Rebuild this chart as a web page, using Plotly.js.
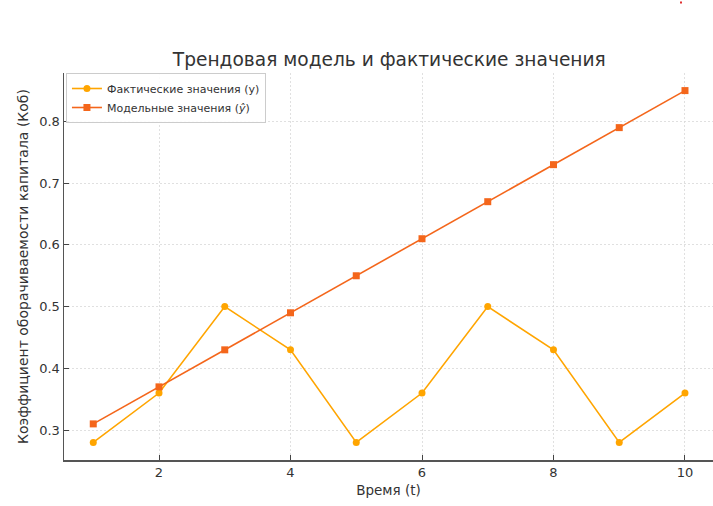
<!DOCTYPE html>
<html><head><meta charset="utf-8">
<script src="https://cdn.plot.ly/plotly-3.0.1.min.js"></script>
<style>body{margin:0;padding:0;background:#fff}</style>
</head><body>
<div id="chart" style="width:713px;height:506px"></div>
<script>
const t = [1,2,3,4,5,6,7,8,9,10];
const actual = [0.28,0.36,0.50,0.43,0.28,0.36,0.50,0.43,0.28,0.36];
const model = [0.31,0.37,0.43,0.49,0.55,0.61,0.67,0.73,0.79,0.85];
const xTicks = [2,4,6,8,10];
const yTicks = [0.3,0.4,0.5,0.6,0.7,0.8];
const font = 'DejaVu Sans, sans-serif';

const traces = [
  {x:t, y:actual, mode:'lines+markers', name:'Фактические значения (y)',
   line:{color:'#FFA500', width:1.6}, marker:{symbol:'circle', size:7, color:'#FFA500'}},
  {x:t, y:model, mode:'lines+markers', name:'Модельные значения (<i>ŷ</i>)',
   line:{color:'#F4661B', width:1.6}, marker:{symbol:'square', size:7, color:'#F4661B'}}
];
const layout = {
  width:713, height:506,
  margin:{l:64, r:0, t:72.5, b:46},
  paper_bgcolor:'#fff', plot_bgcolor:'#fff',
  font:{family:font, color:'#333'},
  title:{text:'Трендовая модель и фактические значения', font:{size:18.6, color:'#333', family:font}, x:0.546, xanchor:'center', y:0.882, yanchor:'middle'},
  xaxis:{range:[0.555,10.426], tickvals:xTicks, ticks:'inside', ticklen:5, tickcolor:'#444',
    showgrid:true, gridcolor:'#d8d8d8', griddash:'2px,2px', gridwidth:0.8,
    showline:true, linecolor:'#555', linewidth:1.5, zeroline:false,
    tickfont:{size:13, color:'#333'},
    title:{text:'Время (t)', font:{size:13.5, color:'#333'}, standoff:6}},
  yaxis:{range:[0.2515,0.8785], tickvals:yTicks, ticktext:yTicks.map(v=>v.toFixed(1)), ticks:'inside', ticklen:5, tickcolor:'#444',
    showgrid:true, gridcolor:'#d8d8d8', griddash:'2px,2px', gridwidth:0.8,
    showline:true, linecolor:'#555', linewidth:1.5, zeroline:false,
    tickfont:{size:13, color:'#333'},
    title:{text:'Коэффициент оборачиваемости капитала (Коб)', font:{size:14, color:'#333'}, standoff:7}},
  legend:{x:0.003, y:1.0, xanchor:'left', yanchor:'top', bgcolor:'rgba(255,255,255,0.9)',
    bordercolor:'#ccc', borderwidth:1, font:{size:11, color:'#333'}, tracegroupgap:0, itemwidth:30},
  shapes:[{type:'rect', xref:'paper', yref:'paper', x0:(680-64)/649, x1:(682-64)/649,
    y0:1+(72.5-3)/387.5, y1:1+(72.5-1)/387.5, fillcolor:'#e03030', line:{width:0}}],
  showlegend:true
};
Plotly.newPlot('chart', traces, layout, {displayModeBar:false, staticPlot:true});
</script>
</body></html>
